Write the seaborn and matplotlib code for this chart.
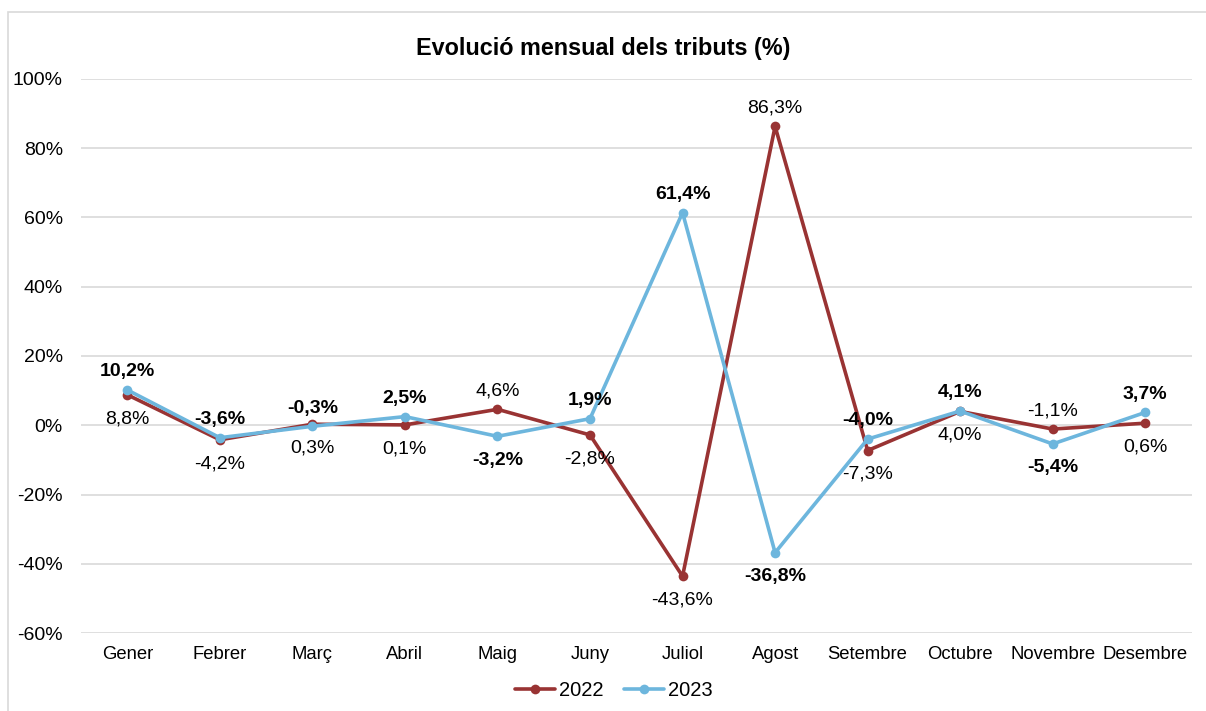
import numpy as np
import pandas as pd
import matplotlib.pyplot as plt
import seaborn as sns
from matplotlib.patches import Rectangle

# Dades: evolució mensual dels tributs (%)
mesos = ['Gener', 'Febrer', 'Març', 'Abril', 'Maig', 'Juny', 'Juliol',
         'Agost', 'Setembre', 'Octubre', 'Novembre', 'Desembre']
valors_2022 = [8.8, -4.2, 0.3, 0.1, 4.6, -2.8, -43.6, 86.3, -7.3, 4.0, -1.1, 0.6]
valors_2023 = [10.2, -3.6, -0.3, 2.5, -3.2, 1.9, 61.4, -36.8, -4.0, 4.1, -5.4, 3.7]
# True = etiqueta de 2023 a dalt (la de 2022 va al costat contrari)
etiqueta_2023_dalt = [True, True, True, True, False, True, True, False, True, True, False, True]
colors = {'2022': '#993333', '2023': '#6DB6DD'}

df = pd.DataFrame({
    'Mes': mesos * 2,
    'Valor': valors_2022 + valors_2023,
    'Any': ['2022'] * 12 + ['2023'] * 12,
})

sns.set_style('white')
plt.rcParams['font.family'] = ['Liberation Sans', 'DejaVu Sans']
plt.rcParams['text.color'] = 'black'

fig = plt.figure(figsize=(12.06, 7.11), dpi=100)
ax = fig.add_axes([0.0672, 0.1097, 0.9208, 0.7792])

sns.lineplot(data=df, x='Mes', y='Valor', hue='Any', palette=colors,
             marker='o', markersize=7, markeredgewidth=0, linewidth=2.6,
             sort=False, ax=ax)

# etiquetes de dades
for i in range(len(mesos)):
    dalt = etiqueta_2023_dalt[i]
    for v, bold, up in [(valors_2022[i], False, not dalt), (valors_2023[i], True, dalt)]:
        txt = f'{v:.1f}%'.replace('.', ',')
        ax.annotate(txt, (i, v), xytext=(0, 7 if up else -11),
                    textcoords='offset points', ha='center',
                    va='bottom' if up else 'top', fontsize=14,
                    fontweight='bold' if bold else 'normal', color='black')

ax.set_ylim(-60, 100)
ax.set_xlim(-0.5, 11.5)
ax.set_yticks(np.arange(-60, 101, 20))
ax.set_yticklabels([f'{t}%' for t in range(-60, 101, 20)])
ax.yaxis.grid(True, color='#D9D9D9', linewidth=1.2)
ax.xaxis.grid(False)
for s in ax.spines.values():
    s.set_visible(False)
ax.tick_params(axis='y', length=0, pad=13, labelsize=14, colors='black')
ax.tick_params(axis='x', length=0, pad=9, labelsize=13.3, colors='black')
ax.set_xlabel('')
ax.set_ylabel('')

fig.text(0.5, 0.932, 'Evolució mensual dels tributs (%)', ha='center', va='center',
         fontsize=16.8, fontweight='bold', color='black')

leg = ax.legend(loc='center', bbox_to_anchor=(0.48, -0.103), ncol=2, frameon=False,
                fontsize=14.5, handlelength=2.0, handletextpad=0.2, columnspacing=1.0,
                bbox_transform=ax.transAxes)
for t in leg.get_texts():
    t.set_color('black')

fig.patches.append(Rectangle((8 / 1206, -0.01), 1.2, 1 - 12 / 711 + 0.01,
                             transform=fig.transFigure, fill=False,
                             edgecolor='#D9D9D9', linewidth=1.2))

fig.savefig('out.png', dpi=100)
